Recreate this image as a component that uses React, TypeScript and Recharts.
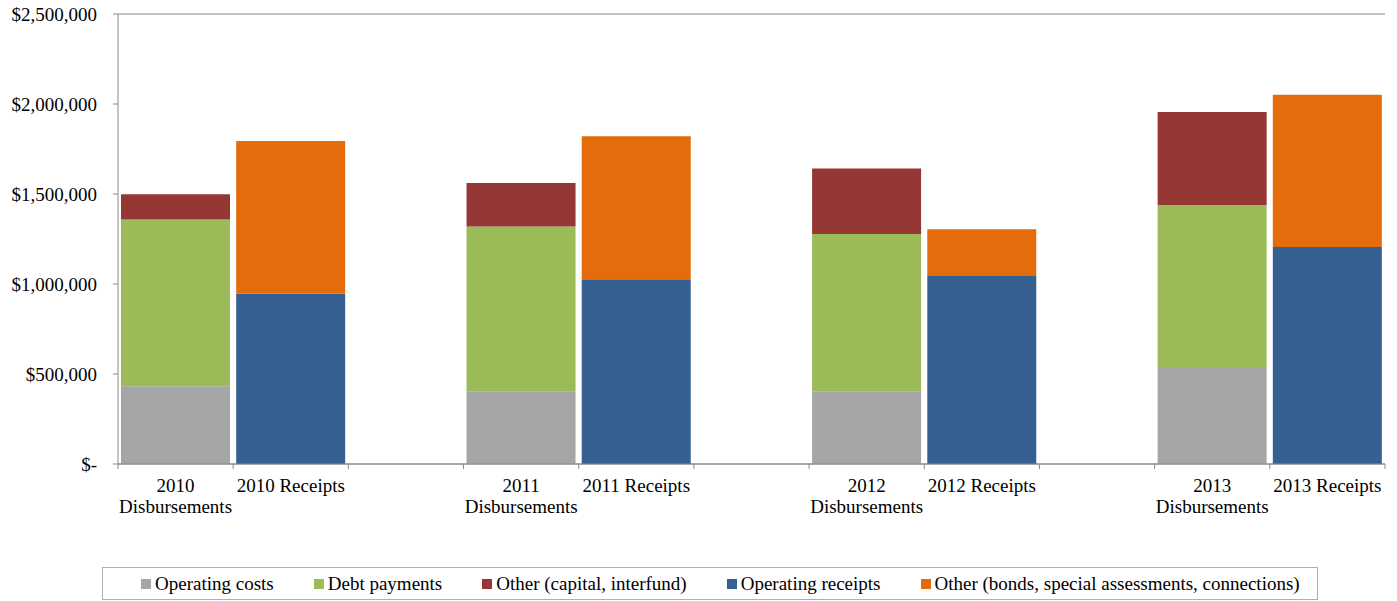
import React from 'react';
import { BarChart, Bar, XAxis, YAxis, CartesianGrid } from 'recharts';

// 11 slots: a disbursement bar, a receipt bar, then an empty spacer slot
const categories = ['d2010', 'r2010', 'gap1', 'd2011', 'r2011', 'gap2', 'd2012', 'r2012', 'gap3', 'd2013', 'r2013'];
const xLabels = [
  '2010\nDisbursements', '2010 Receipts', '',
  '2011\nDisbursements', '2011 Receipts', '',
  '2012\nDisbursements', '2012 Receipts', '',
  '2013\nDisbursements', '2013 Receipts',
];

const operatingCosts = [432000, null, null, 401000, null, null, 401000, null, null, 534000, null];
const debtPayments = [927000, null, null, 918000, null, null, 877000, null, null, 905000, null];
const otherCapital = [140000, null, null, 242000, null, null, 364000, null, null, 516000, null];
const operatingReceipts = [null, 946000, null, null, 1027000, null, null, 1044000, null, null, 1205000];
const otherBonds = [null, 848000, null, null, 794000, null, null, 260000, null, null, 846000];

const yTicks = [0, 500000, 1000000, 1500000, 2000000, 2500000];

const series = [
  { key: 'operatingCosts', name: 'Operating costs', color: '#a5a5a5' },
  { key: 'debtPayments', name: 'Debt payments', color: '#9bbb59' },
  { key: 'otherCapital', name: 'Other (capital, interfund)', color: '#953735' },
  { key: 'operatingReceipts', name: 'Operating receipts', color: '#376092' },
  { key: 'otherBonds', name: 'Other (bonds, special assessments, connections)', color: '#e46c0a' },
];

const data = categories.map((id, i) => ({
  id,
  operatingCosts: operatingCosts[i],
  debtPayments: debtPayments[i],
  otherCapital: otherCapital[i],
  operatingReceipts: operatingReceipts[i],
  otherBonds: otherBonds[i],
}));

const W = 1397;
const H = 601;
const MARGIN = { top: 14, right: 12, bottom: 0, left: 0 };
const Y_WIDTH = 118;
const X_HEIGHT = 137;
const PLOT_BOTTOM = H - MARGIN.bottom - X_HEIGHT;
const SLOT = (W - MARGIN.left - MARGIN.right - Y_WIDTH) / categories.length;
const AXIS = '#8a8a8a';
const FONT = '"Liberation Serif", "Times New Roman", serif';

const fmtMoney = (v: number) => (v === 0 ? '$-' : '$' + v.toLocaleString('en-US'));

const XTick = (props: any) => {
  const { x, index } = props;
  const lines = (xLabels[index] || '').split('\n');
  const half = SLOT / 2;
  return (
    <g>
      <line x1={x - half} x2={x - half} y1={PLOT_BOTTOM} y2={PLOT_BOTTOM + 5} stroke={AXIS} />
      {index === categories.length - 1 && (
        <line x1={x + half} x2={x + half} y1={PLOT_BOTTOM} y2={PLOT_BOTTOM + 5} stroke={AXIS} />
      )}
      {lines.map((l: string, i: number) => (
        <text
          key={i}
          x={x}
          y={PLOT_BOTTOM + 28 + i * 21}
          textAnchor="middle"
          fill="#000"
          fontSize={19}
          fontFamily={FONT}
        >
          {l}
        </text>
      ))}
    </g>
  );
};

const YTick = (props: any) => {
  const { x, y, payload } = props;
  return (
    <text x={x} y={y} dy="0.355em" textAnchor="end" fill="#000" fontSize={19} fontFamily={FONT}>
      {fmtMoney(payload.value)}
    </text>
  );
};

export default function App() {
  return (
    <div
      style={{
        position: 'absolute',
        left: 0,
        top: 0,
        width: W,
        height: H,
        background: '#fff',
        fontFamily: FONT,
      }}
    >
      <BarChart width={W} height={H} data={data} margin={MARGIN} barCategoryGap={3}>
        <CartesianGrid vertical={false} stroke={AXIS} />
        <XAxis
          dataKey="id"
          interval={0}
          height={X_HEIGHT}
          tickLine={false}
          axisLine={{ stroke: AXIS }}
          tick={<XTick />}
        />
        <YAxis
          yAxisId="left"
          width={Y_WIDTH}
          domain={[0, 2500000]}
          ticks={yTicks}
          tickSize={5}
          tickMargin={16}
          tickLine={{ stroke: AXIS }}
          axisLine={{ stroke: AXIS }}
          tick={<YTick />}
        />
        <YAxis
          yAxisId="right"
          orientation="right"
          width={0}
          domain={[0, 2500000]}
          ticks={yTicks}
          tick={false}
          tickLine={false}
          axisLine={{ stroke: '#a6a6a6' }}
        />
        {series.map((s) => (
          <Bar
            key={s.key}
            yAxisId="left"
            dataKey={s.key}
            name={s.name}
            stackId="a"
            fill={s.color}
            isAnimationActive={false}
          />
        ))}
      </BarChart>
      <div
        style={{
          position: 'absolute',
          left: 102,
          top: 567,
          width: 1216,
          height: 33,
          boxSizing: 'border-box',
          border: '1px solid #b0b0b0',
          display: 'flex',
          alignItems: 'center',
          paddingLeft: 38,
          fontFamily: FONT,
          fontSize: 19,
          color: '#000',
        }}
      >
        {series.map((s, i) => (
          <div key={s.key} style={{ display: 'flex', alignItems: 'center', marginRight: i < series.length - 1 ? 40 : 0 }}>
            <span style={{ display: 'inline-block', width: 10, height: 10, background: s.color, marginRight: 4 }} />
            <span style={{ whiteSpace: 'nowrap' }}>{s.name}</span>
          </div>
        ))}
      </div>
    </div>
  );
}
